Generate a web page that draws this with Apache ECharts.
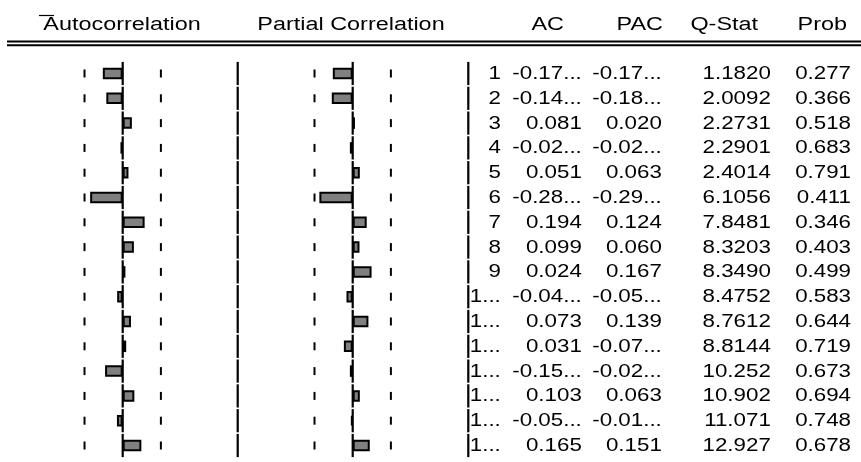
<!DOCTYPE html>
<html>
<head>
<meta charset="utf-8">
<script src="https://cdn.jsdelivr.net/npm/echarts@6/dist/echarts.min.js"></script>
<style>html,body{margin:0;padding:0;background:#fff}#c{width:861px;height:462px}</style>
</head>
<body>
<div id="c"></div>
<script>
// ---- data ----
const lags = ['1','2','3','4','5','6','7','8','9','1...','1...','1...','1...','1...','1...','1...'];
const acValues  = [-0.176, -0.145, 0.081, -0.020, 0.051, -0.288, 0.194, 0.099, 0.024, -0.049, 0.073, 0.031, -0.156, 0.103, -0.051, 0.165];
const pacValues = [-0.176, -0.185, 0.020, -0.025, 0.063, -0.295, 0.124, 0.060, 0.167, -0.055, 0.139, -0.078, -0.025, 0.063, -0.015, 0.151];
const acLabels  = ['-0.17...','-0.14...','0.081','-0.02...','0.051','-0.28...','0.194','0.099','0.024','-0.04...','0.073','0.031','-0.15...','0.103','-0.05...','0.165'];
const pacLabels = ['-0.17...','-0.18...','0.020','-0.02...','0.063','-0.29...','0.124','0.060','0.167','-0.05...','0.139','-0.07...','-0.02...','0.063','-0.01...','0.151'];
const qStat = ['1.1820','2.0092','2.2731','2.2901','2.4014','6.1056','7.8481','8.3203','8.3490','8.4752','8.7612','8.8144','10.252','10.902','11.071','12.927'];
const prob  = ['0.277','0.366','0.518','0.683','0.791','0.411','0.346','0.403','0.499','0.583','0.644','0.719','0.673','0.694','0.748','0.678'];
const bound = 0.338;
const headers = ['Autocorrelation','Partial Correlation','AC','PAC','Q-Stat','Prob'];

// ---- layout ----
const FONT = '18px "Liberation Sans", Arial, sans-serif';
const SX = 1.24;   // horizontal stretch of table text
const SXH = 1.3;   // horizontal stretch of header text
const ROW0 = 73.5, PITCH = 24.8;
const gridTop = ROW0 - PITCH / 2, gridH = PITCH * lags.length;
const SCALE = 113;
const panels = [{l:0, r:238.7, c:122.7}, {l:238.7, r:469.3, c:352.7}];
const tableL = 469.3, tableR = 861;
const colRight = [31.5, 112.5, 192.5, 301.5, 381.7]; // right edges inside table grid

const grids = [], xAxes = [], yAxes = [], series = [];
const rowIdx = lags.map((_, i) => i);
panels.forEach((p, k) => {
  grids.push({left: p.l, top: gridTop, width: p.r - p.l, height: gridH});
  xAxes.push({type:'value', gridIndex:k, min:-(p.c - p.l)/SCALE, max:(p.r - p.c)/SCALE, show:false});
  yAxes.push({type:'category', gridIndex:k, data:lags.map((_,i)=>String(i)), inverse:true, show:false});
  series.push({
    type:'bar', xAxisIndex:k, yAxisIndex:k, barWidth:11.5, silent:true,
    data: k === 0 ? acValues : pacValues,
    itemStyle:{color:'#808080', borderColor:'#000', borderWidth:2},
    z:2
  });
  const xmax = (p.r - p.c)/SCALE;
  series.push({
    type:'custom', xAxisIndex:k, yAxisIndex:k, silent:true, z:3,
    data: rowIdx.map(i => [0, i]),
    encode:{x:0, y:1},
    renderItem: function(params, api){
      const i = api.value(1);
      const c = api.coord([0, i]);
      const h = api.size([0, 1])[1];
      const lo = api.coord([-bound, i])[0], hi = api.coord([bound, i])[0];
      const sep = api.coord([xmax, i])[0] - 1;
      const st = {stroke:'#000', lineWidth:2.2};
      const dst = {stroke:'#000', lineWidth:2};
      return {type:'group', children:[
        {type:'line', shape:{x1:c[0], y1:c[1]-h/2+0.8, x2:c[0], y2:c[1]+h/2-0.8}, style:st},
        {type:'line', shape:{x1:lo, y1:c[1]-4, x2:lo, y2:c[1]+4}, style:dst},
        {type:'line', shape:{x1:hi, y1:c[1]-4, x2:hi, y2:c[1]+4}, style:dst},
        {type:'line', shape:{x1:sep, y1:c[1]-h/2+0.8, x2:sep, y2:c[1]+h/2-0.8}, style:st}
      ]};
    }
  });
});
// table grid
grids.push({left: tableL, top: gridTop, width: tableR - tableL, height: gridH});
xAxes.push({type:'value', gridIndex:2, min:0, max:tableR - tableL, show:false});
yAxes.push({type:'category', gridIndex:2, data:lags.map((_,i)=>String(i)), inverse:true, show:false});
const cols = [lags, acLabels, pacLabels, qStat, prob];
series.push({
  type:'custom', xAxisIndex:2, yAxisIndex:2, silent:true,
  data: rowIdx.map(i => [0, i]),
  encode:{x:0, y:1},
  renderItem: function(params, api){
    const i = api.value(1);
    const kids = cols.map((col, j) => {
      const pt = api.coord([colRight[j], i]);
      return {type:'text', x:pt[0], y:pt[1] + 0.5, scaleX:SX,
        style:{text:col[i], font:FONT, fill:'#000', textAlign:'right', align:'right', textVerticalAlign:'middle', verticalAlign:'middle'}};
    });
    return {type:'group', children:kids};
  }
});

function htext(t, x, align){
  return {type:'text', x:x, y:25.5, scaleX:SXH, silent:true,
    style:{text:t, font:FONT, fill:'#000', textAlign:align, align:align, textVerticalAlign:'middle', verticalAlign:'middle'}};
}
const graphic = [
  htext(headers[0], 122, 'center'),
  htext(headers[1], 351, 'center'),
  htext(headers[2], 564, 'right'),
  htext(headers[3], 663, 'right'),
  htext(headers[4], 758, 'right'),
  htext(headers[5], 847, 'right'),
  {type:'line', silent:true, shape:{x1:39, y1:15.5, x2:54, y2:15.5}, style:{stroke:'#000', lineWidth:1.2}},
  {type:'line', silent:true, shape:{x1:7, y1:41.5, x2:861, y2:41.5}, style:{stroke:'#000', lineWidth:2}},
  {type:'line', silent:true, shape:{x1:7, y1:45.3, x2:861, y2:45.3}, style:{stroke:'#000', lineWidth:2}}
];

const chart = echarts.init(document.getElementById('c'), null, {renderer:'canvas'});
chart.setOption({
  animation:false,
  grid:grids, xAxis:xAxes, yAxis:yAxes, series:series, graphic:graphic
});
</script>
</body>
</html>
